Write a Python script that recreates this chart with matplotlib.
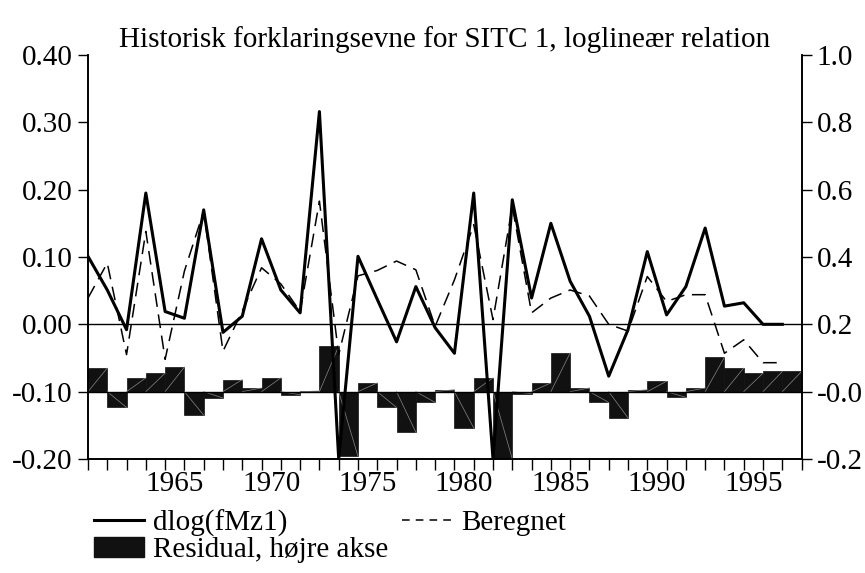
import matplotlib
matplotlib.use("Agg")
import matplotlib.pyplot as plt
from matplotlib.patches import Patch
from matplotlib.lines import Line2D
import numpy as np

plt.rcParams['font.family'] = ['Liberation Serif', 'DejaVu Serif']

years = list(range(1961, 1998))
actual = [0.101, 0.051, -0.008, 0.195, 0.019, 0.009, 0.170, -0.012, 0.012, 0.127,
          0.051, 0.017, 0.316, -0.200, 0.101, 0.037, -0.026, 0.056, -0.005, -0.043,
          0.195, -0.200, 0.185, 0.039, 0.150, 0.064, 0.012, -0.077, -0.008, 0.108,
          0.014, 0.056, 0.143, 0.027, 0.032, 0.000, 0.000]
fitted = [0.039, 0.091, -0.045, 0.138, -0.052, 0.079, 0.168, -0.040, 0.020, 0.084,
          0.060, 0.019, 0.183, -0.045, 0.072, 0.080, 0.094, 0.081, -0.003, 0.066,
          0.148, 0.007, 0.175, 0.017, 0.039, 0.051, 0.042, 0.000, -0.010, 0.071,
          0.034, 0.044, 0.044, -0.043, -0.023, -0.057, -0.057]
residual = [0.070, -0.047, 0.041, 0.055, 0.073, -0.070, -0.019, 0.036, 0.011, 0.041,
            -0.009, 0.002, 0.135, -0.192, 0.026, -0.047, -0.121, -0.032, 0.006, -0.108,
            0.041, -0.200, -0.006, 0.026, 0.115, 0.011, -0.032, -0.078, 0.006, 0.031,
            -0.017, 0.011, 0.102, 0.070, 0.055, 0.060, 0.060]

title = "Historisk forklaringsevne for SITC 1, loglineær relation"
left_ticks = [-0.2, -0.1, 0.0, 0.1, 0.2, 0.3, 0.4]
left_labels = ["-0.20", "-0.10", "0.00", "0.10", "0.20", "0.30", "0.40"]
right_ticks = [-0.2, 0.0, 0.2, 0.4, 0.6, 0.8, 1.0]
right_labels = ["-0.2", "-0.0", "0.2", "0.4", "0.6", "0.8", "1.0"]
year_labels = [1965, 1970, 1975, 1980, 1985, 1990, 1995]

fs = 21
yrs = np.array(years)
line_x = yrs - 0.5

fig = plt.figure(figsize=(8.65, 5.73), dpi=100)
ax = fig.add_axes([0.1017, 0.199, 0.825, 0.705])
ax2 = ax.twinx()

# residual bars on the right axis
ax2.bar(yrs, residual, width=1.0, color="#111111", edgecolor="#111111", linewidth=0.5, zorder=1)
for x, r in zip(yrs, residual):
    ax2.plot([x - 0.5, x + 0.5], [0, r], color="#888888", lw=0.5, zorder=2)
ax2.axhline(0.0, color="black", lw=1.0, zorder=3)
ax2.set_ylim(-0.2, 1.0)
ax2.set_yticks(right_ticks)
ax2.set_yticklabels(right_labels, fontsize=fs)

# lines on the left axis, drawn above the bars
ax.set_zorder(ax2.get_zorder() + 1)
ax.patch.set_visible(False)
ax.axhline(0.0, color="black", lw=1.0)
ax.plot(line_x, fitted, color="black", lw=1.1, dashes=(9, 5))
ax.plot(line_x, actual, color="black", lw=2.2)
ax.set_ylim(-0.2, 0.4)
ax.set_xlim(1960.5, 1997.5)
ax.set_yticks(left_ticks)
ax.set_yticklabels(left_labels, fontsize=fs)

ax.set_xticks(list(line_x) + [yrs[-1] + 0.5])
ax.set_xticklabels([])
ax.set_xticks(year_labels, minor=True)
ax.set_xticklabels([str(y) for y in year_labels], minor=True, fontsize=fs)
ax.tick_params(axis="x", which="major", direction="out", length=8, width=1)
ax.tick_params(axis="x", which="minor", length=0, pad=9)
ax.tick_params(axis="y", direction="out", length=7, width=1, pad=4)
ax2.tick_params(axis="y", direction="out", length=7, width=1, pad=4)

for a in (ax, ax2):
    a.spines["top"].set_visible(False)
    for s in ("left", "right", "bottom"):
        a.spines[s].set_linewidth(1.2)

ax.set_title(title, fontsize=fs, pad=6)

handles = [Line2D([], [], color="black", lw=2.2),
           Patch(facecolor="#111111", edgecolor="#111111"),
           Line2D([], [], color="black", lw=1.1, dashes=(5, 4))]
labels = ["dlog(fMz1)", "Residual, højre akse", "Beregnet"]
fig.legend(handles, labels, loc="upper left", bbox_to_anchor=(0.109, 0.111), ncol=2,
           frameon=False, fontsize=fs, handlelength=1.7, handletextpad=0.3,
           columnspacing=0.5, labelspacing=0.0, borderpad=0, borderaxespad=0)

fig.savefig("out.png", dpi=100)
